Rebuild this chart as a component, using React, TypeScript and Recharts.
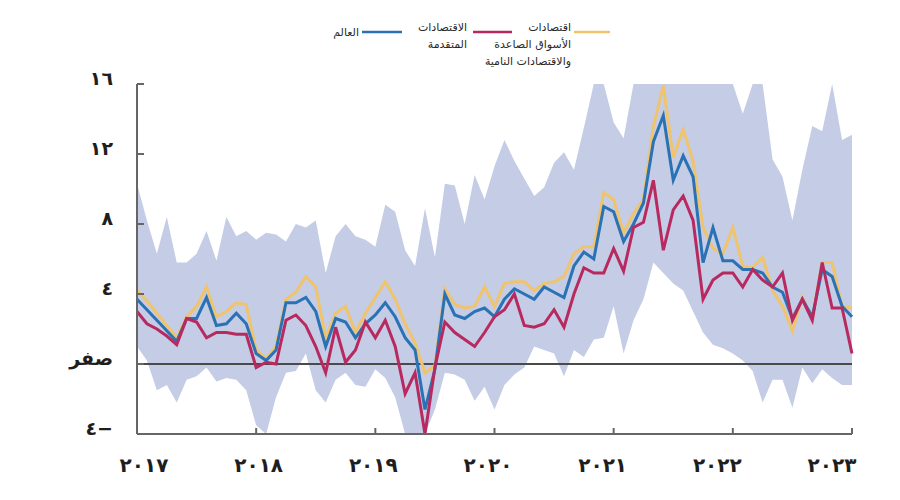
import React from 'react';
import { ComposedChart, Area, Line, XAxis, YAxis, ReferenceLine } from 'recharts';

// Monthly index: 0 = Jan 2017 ... 72 = Jan 2023
const monthIndex: number[] = Array.from({ length: 73 }, (_, i) => i);

const world = [
  3.7, 3.1, 2.5, 1.9, 1.3, 2.6, 2.6, 3.8, 2.2, 2.3, 2.9, 2.3, 0.6, 0.2, 0.8, 3.5, 3.5, 3.8, 3.0,
  1.0, 2.6, 2.4, 1.5, 2.3, 2.8, 3.5, 2.7, 1.5, 0.8, -2.6, -0.3, 4.0, 2.8, 2.6, 3.0, 3.2, 2.7, 3.7,
  4.3, 4.0, 3.7, 4.4, 4.1, 3.8, 5.6, 6.4, 6.0, 9.0, 8.7, 7.0, 8.0, 9.2, 12.7, 14.2, 10.5, 11.9, 10.7,
  5.8, 7.8, 5.9, 5.9, 5.4, 5.4, 5.2, 4.4, 4.1, 2.6, 3.7, 2.7, 5.4, 5.0, 3.3, 2.7,
];

const advanced = [
  3.0, 2.3, 2.0, 1.6, 1.1, 2.6, 2.4, 1.5, 1.8, 1.8, 1.7, 1.7, -0.2, 0.1, 0.0, 2.5, 2.8, 2.2, 1.0,
  -0.5, 2.1, 0.1, 0.8, 2.4, 1.5, 2.5, 1.0, -1.7, -0.5, -4.0, -0.2, 2.4, 1.8, 1.4, 1.0, 1.8, 2.7, 3.1,
  4.0, 2.2, 2.1, 2.3, 3.1, 2.1, 4.0, 5.5, 5.2, 5.2, 6.6, 5.3, 7.8, 8.1, 10.5, 6.5, 8.8, 9.6, 8.2,
  3.7, 4.8, 5.2, 5.2, 4.4, 5.4, 4.8, 4.4, 5.2, 2.5, 3.7, 2.5, 5.8, 3.2, 3.2, 0.6,
];

const emerging = [
  4.2, 3.6, 2.9, 2.2, 1.5, 2.7, 3.3, 4.4, 2.7, 3.0, 3.5, 3.4, 0.8, 0.3, 1.0, 3.7, 4.1, 5.0, 4.4,
  1.5, 2.9, 3.3, 1.8, 2.9, 3.8, 4.7, 3.7, 2.3, 1.2, -0.5, -0.1, 4.3, 3.4, 3.2, 3.3, 4.4, 3.3, 4.6,
  4.7, 4.7, 4.2, 4.6, 4.7, 5.0, 6.3, 6.7, 6.7, 9.8, 9.4, 7.5, 8.6, 9.4, 13.6, 15.9, 11.8, 13.4, 11.6,
  7.8, 6.6, 6.3, 7.8, 5.6, 5.5, 6.1, 4.2, 3.3, 1.9, 3.8, 2.6, 5.8, 5.8, 3.3, 3.2,
];

const bandLow = [
  1.0, 0.2, -1.5, -1.2, -2.2, -0.9, -0.7, -0.2, -1.0, -0.8, -0.9, -1.5, -3.5, -4.0, -1.9, -0.5, -0.4, 0.6, -1.5,
  -2.2, -0.9, -0.5, -1.2, -1.3, -0.3, -0.8, -1.9, -4.0, -4.0, -4.0, -2.6, -0.5, -0.6, -0.9, -2.1, -1.3, -2.6, -1.2,
  -0.6, -0.2, 1.0, 0.8, 0.6, -0.7, 0.8, 0.4, 1.4, 1.5, 3.3, 0.6, 2.5, 3.7, 5.8, 5.2, 4.6, 4.2, 3.0,
  1.8, 1.1, 0.9, 0.6, 0.2, -0.4, -2.2, -0.9, -0.9, -2.5, -0.2, -1.1, -0.3, -0.8, -1.2, -1.2,
];

const bandHigh = [
  10.3, 8.2, 6.3, 8.4, 5.8, 5.8, 6.3, 7.6, 5.9, 8.4, 7.3, 7.6, 7.1, 7.5, 7.4, 7.0, 8.0, 7.8, 8.2,
  5.2, 7.3, 8.0, 7.3, 7.1, 6.7, 9.1, 8.7, 6.5, 5.6, 8.9, 6.1, 10.3, 10.2, 8.0, 10.8, 9.4, 11.3, 12.8,
  11.6, 10.6, 9.6, 10.1, 11.5, 12.1, 11.1, 13.5, 16, 16, 13.8, 12.9, 16, 16, 16, 16, 16, 16, 16,
  16, 16, 16, 16, 14.3, 16, 16, 11.7, 10.7, 8.2, 11.1, 13.6, 13.3, 16, 12.8, 13.1,
];

const yTicks = [-4, 0, 4, 8, 12, 16];
const yTickLabels = ['٤−', 'صفر', '٤', '٨', '١٢', '١٦'];
const xTicks = [0, 12, 24, 36, 48, 60, 72];
const xTickLabels = ['٢٠١٧', '٢٠١٨', '٢٠١٩', '٢٠٢٠', '٢٠٢١', '٢٠٢٢', '٢٠٢٣'];

const COLORS = {
  world: '#2a72b3',
  advanced: '#b82a5f',
  emerging: '#efc46c',
  band: '#c4cce6',
  axis: '#666666',
  zero: '#4a4a4a',
};

const legendWorld = ['العالم'];
const legendAdvanced = ['الاقتصادات', 'المتقدمة'];
const legendEmerging = ['اقتصادات', 'الأسواق الصاعدة', 'والاقتصادات النامية'];

const data = monthIndex.map((m, i) => ({
  m,
  world: world[i],
  advanced: advanced[i],
  emerging: emerging[i],
  band: [bandLow[i], bandHigh[i]],
}));

const FONT = '"DejaVu Sans", sans-serif';

const YTick = (props: any) => {
  const { x, y, payload } = props;
  const idx = yTicks.indexOf(payload.value);
  return (
    <text
      x={x}
      y={y}
      dy={-6}
      textAnchor="end"
      dominantBaseline="central"
      fontFamily={FONT}
      fontSize={19}
      fontWeight="bold"
      fill="#1e1e1e"
    >
      {yTickLabels[idx]}
    </text>
  );
};

const XTick = (props: any) => {
  const { x, y, payload } = props;
  const idx = xTicks.indexOf(payload.value);
  return (
    <text
      x={x}
      y={y}
      dx={7 - idx * 4.5}
      textAnchor="middle"
      dominantBaseline="central"
      fontFamily={FONT}
      fontSize={20}
      fontWeight="bold"
      letterSpacing={3}
      fill="#1e1e1e"
    >
      {xTickLabels[idx]}
    </text>
  );
};

const LegendOverlay = () => (
  <svg
    width={900}
    height={80}
    style={{ position: 'absolute', left: 0, top: 0, pointerEvents: 'none' }}
  >
    <g fontFamily={FONT} fontSize={11} fill="#2a2a2a">
      <line x1={362} x2={402} y1={32} y2={32} stroke={COLORS.world} strokeWidth={2.5} />
      {legendWorld.map((t, i) => (
        <text key={t} x={359} y={32 + i * 17} textAnchor="end" dominantBaseline="central">{t}</text>
      ))}
      <line x1={473} x2={512} y1={32} y2={32} stroke={COLORS.advanced} strokeWidth={2.5} />
      {legendAdvanced.map((t, i) => (
        <text key={t} x={467} y={27 + i * 17} textAnchor="end" dominantBaseline="central">{t}</text>
      ))}
      <line x1={574} x2={610} y1={32} y2={32} stroke={COLORS.emerging} strokeWidth={2.5} />
      {legendEmerging.map((t, i) => (
        <text key={t} x={571} y={27 + i * 17} textAnchor="end" dominantBaseline="central">{t}</text>
      ))}
    </g>
  </svg>
);

export default function App() {
  return (
    <div style={{ position: 'absolute', left: 0, top: 0, width: 900, height: 500, background: '#ffffff' }}>
      <ComposedChart
        width={900}
        height={500}
        data={data}
        margin={{ top: 84, right: 48, left: 0, bottom: 26 }}
      >
        <XAxis
          dataKey="m"
          type="number"
          domain={[0, 72]}
          ticks={xTicks}
          interval={0}
          height={40}
          axisLine={{ stroke: COLORS.axis, strokeWidth: 2 }}
          tickLine={{ stroke: COLORS.axis, strokeWidth: 2 }}
          tickSize={-6}
          tickMargin={37}
          tick={<XTick />}
        />
        <YAxis
          type="number"
          domain={[-4, 16]}
          ticks={yTicks}
          interval={0}
          allowDataOverflow
          width={137}
          axisLine={{ stroke: COLORS.axis, strokeWidth: 2 }}
          tickLine={{ stroke: COLORS.axis, strokeWidth: 2 }}
          tickSize={-7}
          tickMargin={31}
          tick={<YTick />}
        />
        <Area
          type="linear"
          dataKey="band"
          stroke="none"
          fill={COLORS.band}
          fillOpacity={1}
          isAnimationActive={false}
        />
        <ReferenceLine y={0} stroke={COLORS.zero} strokeWidth={2} />
        <Line type="linear" dataKey="emerging" stroke={COLORS.emerging} strokeWidth={3} dot={false} isAnimationActive={false} />
        <Line type="linear" dataKey="world" stroke={COLORS.world} strokeWidth={3} dot={false} isAnimationActive={false} />
        <Line type="linear" dataKey="advanced" stroke={COLORS.advanced} strokeWidth={3} dot={false} isAnimationActive={false} />
      </ComposedChart>
      <LegendOverlay />
    </div>
  );
}
